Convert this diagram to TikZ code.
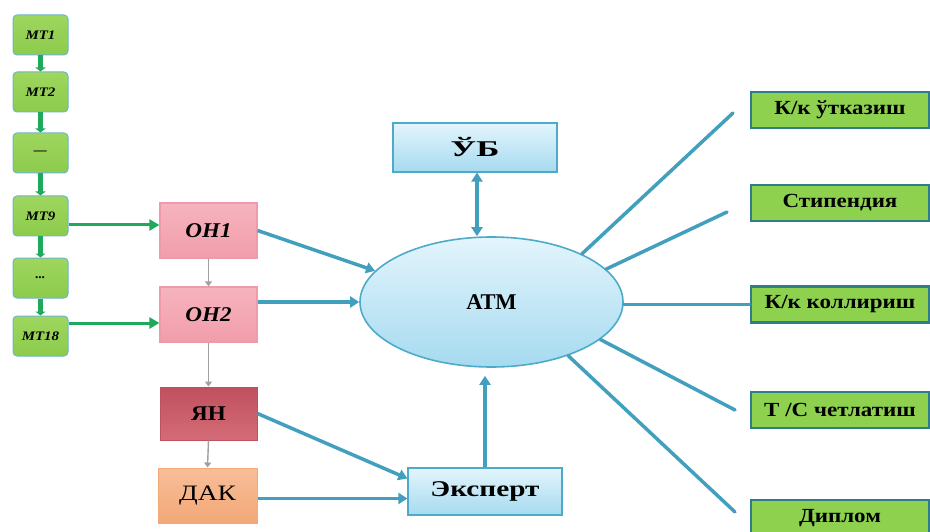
\documentclass[tikz,border=0pt]{standalone}
\usepackage{fontspec}
\usepackage{graphicx}
\setmainfont{Liberation Serif}
\usetikzlibrary{arrows.meta,calc,shapes.geometric}

% horizontally widened label text
\newcommand\widen[2]{\scalebox{#1}[1]{#2}}

\definecolor{mtfill}{HTML}{8CCB4C}
\definecolor{mtfilltop}{HTML}{9ED65E}
\definecolor{mtedge}{HTML}{6DB6CF}
\definecolor{rfill}{HTML}{8ED14F}
\definecolor{redge}{HTML}{2F7C8C}
\definecolor{flowgreen}{HTML}{1EAA5A}
\definecolor{teal}{HTML}{42A0BE}
\definecolor{bluetop}{HTML}{E3F5FC}
\definecolor{bluebot}{HTML}{A6DAF0}
\definecolor{blueedge}{HTML}{4DAAC8}
\definecolor{pinktop}{HTML}{F6B4BE}
\definecolor{pinkbot}{HTML}{F19DAA}
\definecolor{pinkedge}{HTML}{EE9AA8}
\definecolor{redtop}{HTML}{C0505E}
\definecolor{redbot}{HTML}{D46C78}
\definecolor{orangetop}{HTML}{F8BE98}
\definecolor{orangebot}{HTML}{F2A878}
\definecolor{greyarrow}{HTML}{A0A0A0}

\begin{document}
\begin{tikzpicture}[x=1pt,y=-1pt,
  mtbox/.style={draw=mtedge, line width=1pt, rounded corners=4pt,
    top color=mtfilltop, bottom color=mtfill, minimum width=55pt,
    minimum height=40pt, inner sep=0pt,
    font=\fontsize{13}{13}\selectfont\bfseries\itshape},
  rbox/.style={draw=redge, line width=2.5pt, fill=rfill,
    minimum width=178pt, minimum height=36pt, inner sep=0pt,
    font=\fontsize{20}{20}\selectfont\bfseries},
  onbox/.style={draw=pinkedge, line width=1.2pt, top color=pinktop,
    bottom color=pinkbot, minimum width=97pt, minimum height=55pt,
    inner sep=0pt, font=\fontsize{21}{21}\selectfont\bfseries\itshape},
  bluebox/.style={draw=blueedge, line width=1.2pt, top color=bluetop,
    bottom color=bluebot, inner sep=0pt,
    font=\fontsize{22.5}{22.5}\selectfont\bfseries},
  gstep/.style={line width=5pt, draw=flowgreen,
    -{Triangle[width=10pt,length=4pt]}},
  gflow/.style={line width=3pt, draw=flowgreen,
    -{Triangle[width=11pt,length=10pt]}},
  tflow/.style={line width=3.5pt, draw=teal,
    -{Triangle[width=11pt,length=9pt]}},
  tline/.style={line width=3.5pt, draw=teal, line cap=round},
  gnext/.style={line width=1.4pt, draw=greyarrow,
    -{Triangle[width=7pt,length=5pt]}}
]
\useasboundingbox (0,0) rectangle (930,532);

% left chain of modules
\node[mtbox] (m1) at (40.5,35)  {\widen{1.15}{МТ1}};
\node[mtbox] (m2) at (40.5,92)  {\widen{1.15}{МТ2}};
\node[mtbox] (m3) at (40.5,153) {---};
\node[mtbox] (m9) at (40.5,216) {\widen{1.15}{МТ9}};
\node[mtbox] (m4) at (40.5,278) {...};
\node[mtbox] (m18) at (40.5,336) {\widen{1.15}{МТ18}};

\foreach \a/\b in {m1/m2, m2/m3, m3/m9, m9/m4, m4/m18}
  \draw[gstep] (\a.south) -- (\b.north);

% intermediate assessments
\node[onbox] (on1) at (208.5,230.5) {\widen{1.1}{ОН1}};
\node[onbox] (on2) at (208.5,314.5) {\widen{1.1}{ОН2}};
\node[draw=redtop, line width=1pt, top color=redtop, bottom color=redbot,
  minimum width=97pt, minimum height=53pt, inner sep=0pt,
  font=\fontsize{21}{21}\selectfont\bfseries] (yan) at (208.5,413.5) {\widen{1.1}{ЯН}};
\node[draw=orangebot, line width=1pt, top color=orangetop,
  bottom color=orangebot, minimum width=99pt, minimum height=55pt,
  inner sep=0pt, font=\fontsize{22}{22}\selectfont] (dak) at (207.5,495.5) {\widen{1.25}{ДАК}};

\draw[gnext] (on1.south) -- (on2.north);
\draw[gnext] (on2.south) -- (yan.north);
\draw[gnext] (yan.south) -- (dak.north);

\draw[gflow] ($(m9.east)+(0,9)$) -- ($(m9.east -| on1.west)+(0,9)$);
\draw[gflow] ($(m18.east)+(0,-13)$) -- ($(m18.east -| on2.west)+(0,-13)$);

% central system
\node[ellipse, draw=blueedge, line width=1.6pt, top color=bluetop,
  bottom color=bluebot, minimum width=263pt, minimum height=130pt,
  inner sep=0pt, font=\fontsize{22.5}{22.5}\selectfont\bfseries] (atm) at (491.5,302) {АТМ};
\node[bluebox, minimum width=164pt, minimum height=49pt] (ub) at (475,147.5) {\widen{1.55}{ЎБ}};
\node[bluebox, minimum width=154pt, minimum height=47pt] (ex) at (485,491.5) {\widen{1.3}{Эксперт}};

\draw[tflow, {Triangle[width=11pt,length=9pt]}-{Triangle[width=11pt,length=9pt]}]
  (ub.south -| 477,0) -- (atm.north -| 477,0);
\draw[tflow] (on1.east) -- (atm.165);
\draw[tflow] (on2.east |- atm.west) -- (atm.west);
\draw[tflow] (yan.east) -- ($(ex.west)+(0,-13)$);
\draw[tflow] ($(dak.east)+(0,3)$) -- ($(dak.east -| ex.west)+(0,3)$);
\draw[tflow, shorten >=8pt] (ex.north) -- (atm.south -| ex.north);

% outcomes
\node[rbox] (r1) at (840,110)   {\widen{1.15}{К/к ўтказиш}};
\node[rbox] (r2) at (840,203)   {\widen{1.15}{Стипендия}};
\node[rbox] (r3) at (840,304.5) {\widen{1.15}{К/к коллириш}};
\node[rbox] (r4) at (840,410)   {\widen{1.15}{Т /С четлатиш}};
\node[rbox] (r5) at (840,518)   {\widen{1.15}{Диплом}};

% free ends of the outcome lines, just short of each box
\coordinate (e1) at (733,113);
\coordinate (e2) at (727,212);
\coordinate (e4) at (735,410);
\coordinate (e5) at (735,512);

\draw[tline] (atm.28.6) -- (e1);
\draw[tline] (atm.16.4) -- (e2);
\draw[tline] (atm.east |- r3.west) -- (r3.west);
\draw[tline] (atm.-19.3) -- (e4);
\draw[tline] (atm.-35) -- (e5);
\end{tikzpicture}
\end{document}
